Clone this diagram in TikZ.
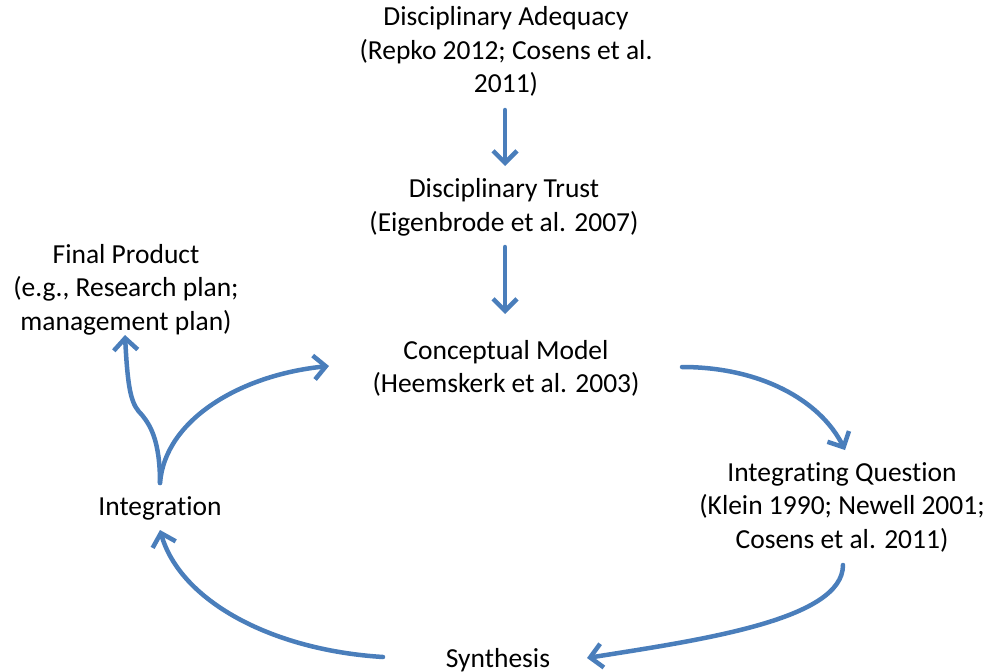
\documentclass[tikz,border=0pt]{standalone}
\usepackage{fontspec}
\setmainfont{Carlito}[Ligatures=NoCommon]
\usetikzlibrary{arrows.meta}
\definecolor{flow}{HTML}{4A7EBB}
\tikzset{
  lbl/.style={align=center, inner sep=0pt, font=\fontsize{27.5}{33.5}\selectfont},
  link/.style={draw=flow, line width=4.5pt, line cap=round,
    -{Straight Barb[length=12pt, width=24pt, line width=4.5pt]}},
}
\begin{document}
\begin{tikzpicture}[x=1pt, y=-1pt]
\useasboundingbox (0,0) rectangle (989,672);
\node[lbl] (adeq) at (506,51.5) {Disciplinary Adequacy\\(Repko 2012; Cosens et al.\\2011)};
\node[lbl] (trust) at (504,207.5) {Disciplinary Trust\\(Eigenbrode et al. 2007)};
\node[lbl] (model) at (506,368.5) {Conceptual Model\\(Heemskerk et al. 2003)};
\node[lbl] (final) at (126,289.5) {Final Product\\(e.g., Research plan;\\management plan)};
\node[lbl] (integ) at (160,508) {Integration};
\node[lbl] (quest) at (842,507) {Integrating Question\\(Klein 1990; Newell 2001;\\Cosens et al. 2011)};
\node[lbl] (synth) at (498,660) {Synthesis};

% free ends of the connectors, just outside the labels
\coordinate (a1s) at (505,110);
\coordinate (a1e) at (505,166);
\coordinate (a2s) at (505,247);
\coordinate (a2e) at (505,314);
\coordinate (m-out) at (682,367);
\coordinate (q-in) at (845,450);
\coordinate (q-out) at (843,565);
\coordinate (s-in) at (587,658);
\coordinate (s-out) at (383,657);
\coordinate (i-in) at (160,530);
\coordinate (i-out) at (160,483);
\coordinate (m-in) at (329,366);
\coordinate (f-in) at (125,335);

\draw[link] (a1s) -- (a1e);
\draw[link] (a2s) -- (a2e);
\draw[link] (m-out) .. controls (760,367) and (820,400) .. (q-in);
\draw[link] (q-out) .. controls (843,620) and (700,640) .. (s-in);
\draw[link] (s-out) .. controls (270,650) and (180,600) .. (i-in);
\draw[link] (i-out) .. controls (165,420) and (240,375) .. (m-in);
\draw[link] (i-out) .. controls (160,440) and (150,425) .. (142,415)
  .. controls (132,405) and (128,395) .. (f-in);
\end{tikzpicture}
\end{document}
